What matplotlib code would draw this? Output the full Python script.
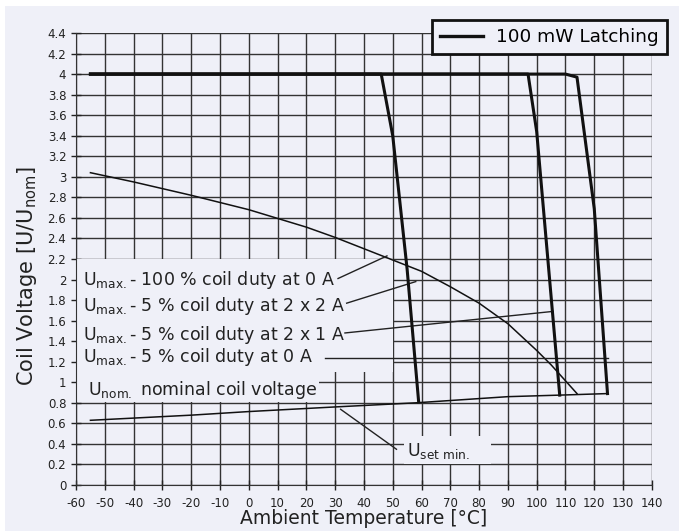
import matplotlib.pyplot as plt
from matplotlib.patches import Rectangle

plt.rcParams['axes.unicode_minus'] = False

# dados
temp_max100 = [-55, -40, -20, 0, 20, 30, 40, 50, 60, 70, 80, 90, 100, 105, 114]
u_max100 = [3.04, 2.95, 2.82, 2.68, 2.51, 2.41, 2.30, 2.19, 2.08, 1.93, 1.77, 1.57, 1.31, 1.17, 0.89]

temp_2x2 = [-55, 46, 50, 55, 59]
u_2x2 = [4.0, 4.0, 3.4, 2.1, 0.81]

temp_2x1 = [-55, 97, 100, 108]
u_2x1 = [4.0, 4.0, 3.44, 0.875]

temp_0a = [-55, 110, 114, 120, 124.6]
u_0a = [4.0, 4.0, 3.97, 2.69, 0.89]

temp_nom = [-55, -20, 0, 30, 58, 90, 108, 124.6]
u_nom = [0.63, 0.68, 0.715, 0.76, 0.80, 0.86, 0.875, 0.89]

rotulos = [r'U$_\mathregular{max.}$- 100 % coil duty at 0 A',
           r'U$_\mathregular{max.}$- 5 % coil duty at 2 x 2 A',
           r'U$_\mathregular{max.}$- 5 % coil duty at 2 x 1 A',
           r'U$_\mathregular{max.}$- 5 % coil duty at 0 A']
rotulos_y = [2.0, 1.74, 1.46, 1.25]
# linhas de chamada (x0, y0, x1, y1)
chamadas = [(31, 2.01, 48, 2.23),
            (34, 1.77, 58, 1.98),
            (33.4, 1.48, 105.7, 1.69),
            (26.5, 1.24, 124.6, 1.24)]

bg = '#eff0f8'
fig = plt.figure(figsize=(6.79, 5.31), dpi=100, facecolor='white')
fig.patches.append(Rectangle((5 / 679, 0), 1, 525 / 531, transform=fig.transFigure,
                             facecolor=bg, edgecolor='none', zorder=-10))
ax = fig.add_axes([0.112, 0.0866, 0.848, 0.8513])
ax.set_facecolor(bg)

ax.set_xlim(-60, 140)
ax.set_ylim(0, 4.4)
ax.set_xticks(range(-60, 141, 10))
yt = [round(i * 0.2, 1) for i in range(23)]
ax.set_yticks(yt)
ax.set_yticklabels([f'{v:g}' for v in yt])
ax.tick_params(direction='inout', length=7, width=1, labelsize=8.5, colors='#222222')
ax.tick_params(axis='x', pad=5)
ax.grid(True, color='#333333', linewidth=1)
ax.set_axisbelow(True)
for s in ['top', 'right']:
    ax.spines[s].set_visible(False)
ax.spines['left'].set_color('#333333')
ax.spines['bottom'].set_color('#333333')

# caixas que escondem a grade atrás dos rótulos
for (x0, y0, w, h) in [(-60, 1.1, 110, 1.1), (-60, 0.81, 84.5, 0.29), (54, 0.2, 30, 0.28)]:
    ax.add_patch(Rectangle((x0, y0), w, h, facecolor=bg, edgecolor='none', zorder=1))

ax.plot(temp_max100, u_max100, color='#111111', lw=1.1, zorder=3)
ax.plot(temp_nom, u_nom, color='#111111', lw=1.1, zorder=3)
for tx, uy in [(temp_2x2, u_2x2), (temp_2x1, u_2x1), (temp_0a, u_0a)]:
    ax.plot(tx, uy, color='#111111', lw=2.2, zorder=4)
ax.plot([], [], color='#111111', lw=2.4, label='100 mW Latching')

for txt, y in zip(rotulos, rotulos_y):
    ax.text(-57.7, y, txt, fontsize=12.5, va='center', ha='left', color='#222222', zorder=5)
for x0, y0, x1, y1 in chamadas:
    ax.plot([x0, x1], [y0, y1], color='#222222', lw=1, zorder=3)

ax.text(-55.8, 0.925, r'U$_\mathregular{nom.}$ nominal coil voltage', fontsize=12.5,
        va='center', ha='left', color='#222222', zorder=5)
ax.text(54.8, 0.33, r'U$_\mathregular{set\ min.}$', fontsize=12.5, va='center', ha='left',
        color='#222222', zorder=5)
ax.plot([31.9, 51.3], [0.737, 0.348], color='#222222', lw=1, zorder=3)

ax.set_xlabel('Ambient Temperature [°C]', fontsize=13.5, color='#222222', va='center')
ax.xaxis.set_label_coords(0.5, -0.073)
ax.set_ylabel(r'Coil Voltage [U/U$_\mathregular{nom}$]', fontsize=15, color='#222222', va='center')
ax.yaxis.set_label_coords(-0.085, 0.462)

leg = ax.legend(loc='upper right', bbox_to_anchor=(1.026, 1.029), fontsize=13.3, frameon=True,
                fancybox=False, handlelength=2.3, handletextpad=0.7, borderpad=0.45,
                borderaxespad=0)
leg.get_frame().set_edgecolor('#111111')
leg.get_frame().set_linewidth(2)
leg.get_frame().set_facecolor(bg)
leg.get_frame().set_alpha(1)

plt.savefig('out.png', dpi=100, facecolor=fig.get_facecolor())
